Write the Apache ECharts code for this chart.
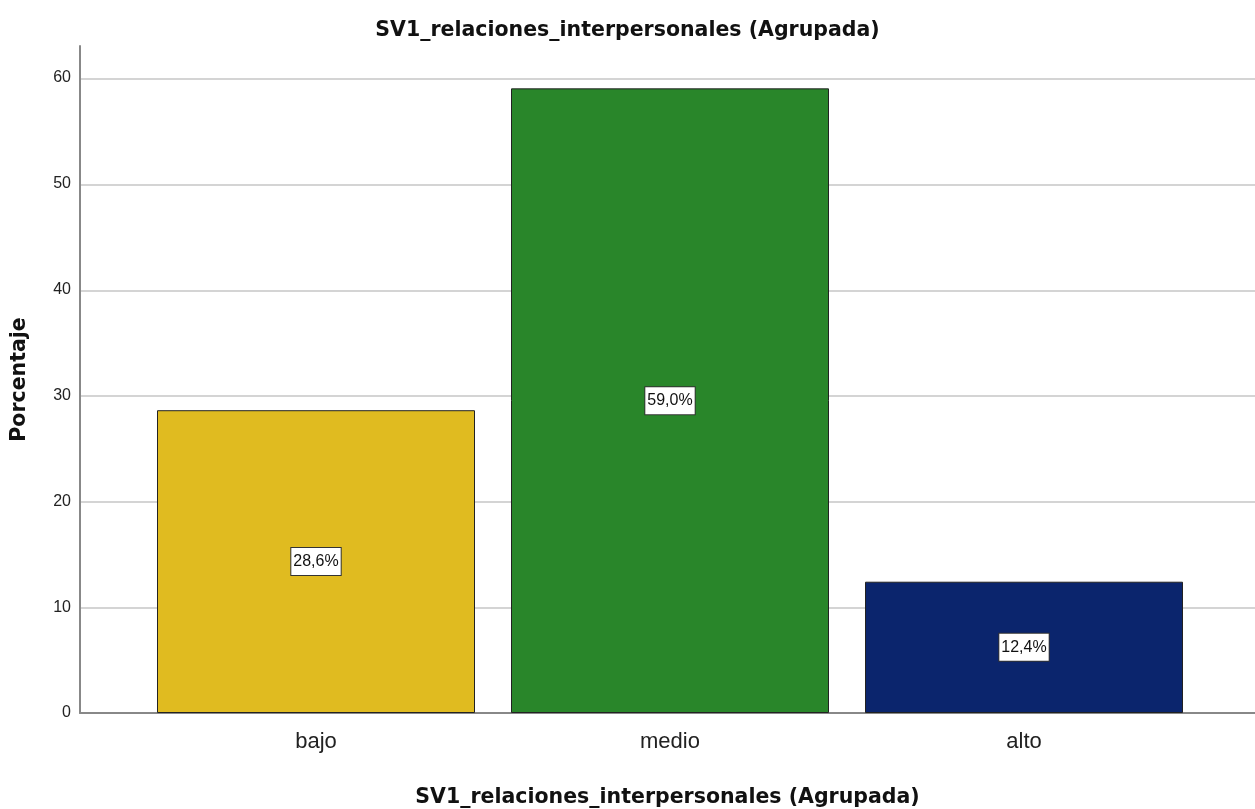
<!DOCTYPE html>
<html>
<head>
<meta charset="utf-8">
<script src="https://cdn.jsdelivr.net/npm/echarts@6/dist/echarts.min.js"></script>
<style>
  html, body { margin: 0; padding: 0; background: #fff; }
  #main { width: 1255px; height: 809px; }
</style>
</head>
<body>
<div id="main"></div>
<script>
// datos
var categorias = ['bajo', 'medio', 'alto'];
var porcentajes = [28.6, 59.0, 12.4];
var colores = ['#E0BB20', '#29862A', '#0B256D'];
var yTicks = [0, 10, 20, 30, 40, 50, 60];

var chart = echarts.init(document.getElementById('main'));

var tituloFont = { fontFamily: 'DejaVu Sans', fontSize: 20.5, fontWeight: 'bold', color: '#111' };

var option = {
    backgroundColor: '#ffffff',
    animation: false,
    title: {
        text: 'SV1_relaciones_interpersonales (Agrupada)',
        left: 'center',
        top: 15,
        textStyle: tituloFont
    },
    grid: [
        // eje y completo (hasta 63)
        { left: 80, right: 0, top: 46, bottom: 96, outerBoundsMode: 'none' },
        // lineas de fondo (0 a 60)
        { left: 80, right: 0, top: 79, bottom: 96, outerBoundsMode: 'none' },
        // barras
        { left: 139, width: 1062, top: 46, bottom: 96, outerBoundsMode: 'none' }
    ],
    xAxis: [
        {
            type: 'value', gridIndex: 0, min: 0, max: 1,
            axisLine: { show: true, lineStyle: { color: '#888', width: 2 } },
            axisTick: { show: false }, axisLabel: { show: false }, splitLine: { show: false },
            name: 'SV1_relaciones_interpersonales (Agrupada)',
            nameLocation: 'middle', nameGap: 74,
            nameTextStyle: tituloFont
        },
        {
            type: 'value', gridIndex: 1, min: 0, max: 1, show: false
        },
        {
            type: 'category', gridIndex: 2, data: categorias,
            axisLine: { show: false }, axisTick: { show: false },
            axisLabel: { fontFamily: 'Liberation Sans', fontSize: 22, color: '#222', margin: 18 }
        }
    ],
    yAxis: [
        {
            type: 'value', gridIndex: 0, min: 0, max: 63, interval: 10,
            axisLine: { show: true, lineStyle: { color: '#888', width: 2 } },
            axisTick: { show: false },
            axisLabel: {
                fontFamily: 'Liberation Sans', fontSize: 16, color: '#222', margin: 9,
                formatter: function (v) { return yTicks.indexOf(v) >= 0 ? v : ''; }
            },
            splitLine: { show: false },
            name: 'Porcentaje', nameLocation: 'middle', nameGap: 50, nameRotate: 90,
            nameTextStyle: tituloFont
        },
        {
            type: 'value', gridIndex: 1, min: 0, max: 60, interval: 10,
            axisLine: { show: false }, axisTick: { show: false }, axisLabel: { show: false },
            splitLine: { show: true, lineStyle: { color: '#d4d4d4', width: 2 } }
        },
        {
            type: 'value', gridIndex: 2, min: 0, max: 63, interval: 10,
            show: false, splitLine: { show: false }
        }
    ],
    series: [
        {
            type: 'bar',
            xAxisIndex: 2, yAxisIndex: 2,
            barWidth: 318,
            data: porcentajes.map(function (v, i) {
                return { value: v, itemStyle: { color: colores[i] } };
            }),
            itemStyle: { borderColor: '#222', borderWidth: 1 },
            label: {
                show: true, position: 'inside',
                formatter: function (p) { return p.value.toFixed(1).replace('.', ',') + '%'; },
                fontFamily: 'Liberation Sans', fontSize: 16, color: '#111',
                backgroundColor: '#fff', borderColor: '#333', borderWidth: 1,
                padding: [6, 2, 5, 2]
            }
        }
    ]
};

chart.setOption(option);
</script>
</body>
</html>
